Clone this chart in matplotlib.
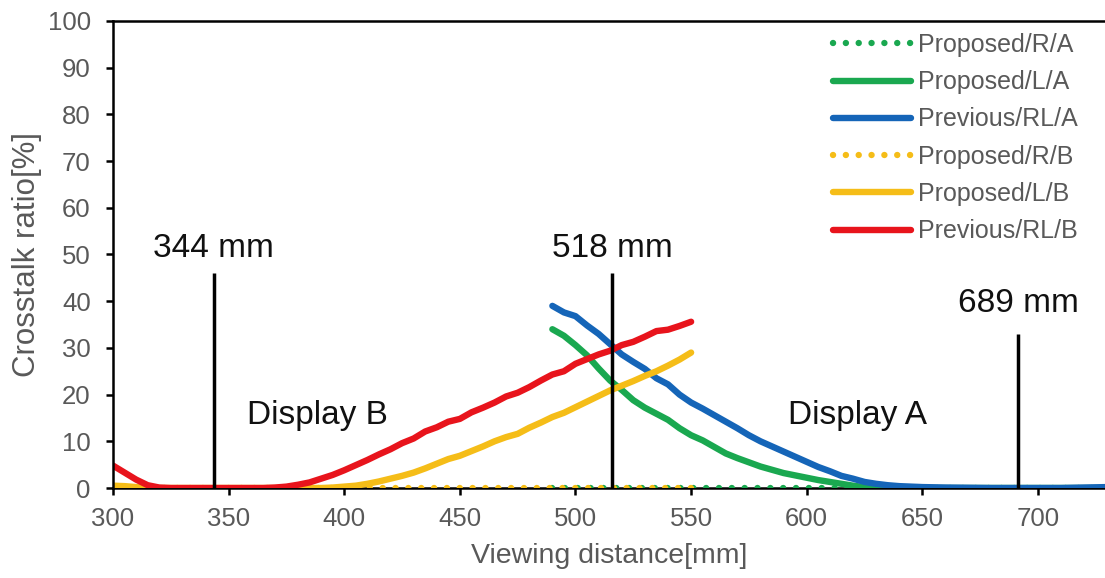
import numpy as np
import matplotlib.pyplot as plt

plt.rcParams['font.family'] = ['Liberation Sans', 'DejaVu Sans']

# viewing distance [mm] and crosstalk ratio [%]
x_b = [300, 305, 310, 315, 320, 325, 330, 335, 340, 345, 350, 355, 360, 365, 370,
       375, 380, 385, 390, 395, 400, 405, 410, 415, 420, 425, 430, 435, 440, 445,
       450, 455, 460, 465, 470, 475, 480, 485, 490, 495, 500, 505, 510, 515, 520,
       525, 530, 535, 540, 545, 550]
prev_rl_b = [4.8, 3.3, 1.8, 0.6, 0.1, 0, 0, 0, 0, 0, 0, 0, 0, 0, 0.1,
             0.3, 0.7, 1.2, 2.0, 2.8, 3.8, 4.9, 6.0, 7.2, 8.3, 9.6, 10.6, 12.1, 13.0, 14.2,
             14.8, 16.2, 17.2, 18.3, 19.6, 20.4, 21.6, 23.0, 24.3, 25.0, 26.6, 27.6, 28.6, 29.4, 30.6,
             31.3, 32.4, 33.6, 33.9, 34.7, 35.6]
prop_l_b = [0.5, 0.4, 0.2, 0, 0, 0, 0, 0, 0, 0, 0, 0, 0, 0, 0,
            0, 0, 0, 0, 0.1, 0.3, 0.5, 0.9, 1.4, 2.0, 2.6, 3.3, 4.2, 5.2, 6.2,
            6.9, 7.9, 8.9, 10.0, 10.9, 11.6, 12.9, 14.0, 15.2, 16.1, 17.3, 18.5, 19.7, 20.9, 21.9,
            22.9, 24.0, 25.0, 26.2, 27.5, 29.0]
prop_r_b = [0] * len(x_b)

x_a = [490, 495, 500, 505, 510, 515, 520, 525, 530, 535, 540, 545, 550, 555, 560,
       565, 570, 575, 580, 585, 590, 595, 600, 605, 610, 615, 620, 625, 630, 635,
       640, 645, 650, 660, 670, 680, 690, 700, 710, 720, 730]
prev_rl_a = [39.0, 37.6, 36.8, 34.8, 33.0, 30.8, 28.6, 27.0, 25.5, 23.5, 22.2, 20.0, 18.3, 17.0, 15.6,
             14.2, 12.8, 11.3, 10.0, 8.9, 7.8, 6.7, 5.6, 4.5, 3.6, 2.6, 2.0, 1.3, 0.9, 0.6,
             0.4, 0.3, 0.2, 0.1, 0.05, 0, 0, 0, 0, 0.1, 0.2]
prop_l_a = [34.0, 32.6, 30.6, 28.4, 25.6, 23.0, 21.0, 18.8, 17.2, 15.9, 14.6, 12.8, 11.3, 10.2, 8.8,
            7.4, 6.4, 5.5, 4.6, 3.9, 3.2, 2.7, 2.2, 1.7, 1.3, 0.9, 0.5, 0.2, 0.1, 0,
            0, 0, 0, 0, 0, 0, 0, 0, 0, 0, 0]
prop_r_a = [0] * len(x_a)

# reference distances
marks = [343.5, 516, 691.5]
mark_tops = [46, 46, 33]
mark_labels = ['344 mm', '518 mm', '689 mm']
mark_label_y = [49.5, 49.5, 37.7]

green = '#1aa850'
blue = '#1565b8'
yellow = '#f5bd18'
red = '#e8141c'
grey = '#595959'

fig = plt.figure(figsize=(11.05, 5.78), dpi=100)
ax = fig.add_axes([0.1023, 0.1557, 0.8977, 0.808])

lw = 4.6
ax.plot(x_a, prop_r_a, color=green, lw=lw, dashes=(0.01, 2.0),
        dash_capstyle='round', label='Proposed/R/A')
ax.plot(x_a, prop_l_a, color=green, lw=lw, solid_capstyle='round', label='Proposed/L/A')
ax.plot(x_a, prev_rl_a, color=blue, lw=lw, solid_capstyle='round', label='Previous/RL/A')
ax.plot(x_b, prop_r_b, color=yellow, lw=lw, dashes=(0.01, 2.0),
        dash_capstyle='round', label='Proposed/R/B')
ax.plot(x_b, prop_l_b, color=yellow, lw=lw, solid_capstyle='round', label='Proposed/L/B')
ax.plot(x_b, prev_rl_b, color=red, lw=lw, solid_capstyle='round', label='Previous/RL/B')

ax.vlines(marks, 0, mark_tops, color='black', lw=2.5, zorder=5)
for xm, ym, txt in zip(marks, mark_label_y, mark_labels):
    ax.text(xm, ym, txt, ha='center', va='baseline', fontsize=24, color='#111111')
ax.text(388.5, 13.6, 'Display B', ha='center', va='baseline', fontsize=24, color='#111111')
ax.text(622, 13.6, 'Display A', ha='center', va='baseline', fontsize=24, color='#111111')

ax.set_xlim(300, 729)
ax.set_ylim(0, 100)
ax.set_xticks(np.arange(300, 701, 50))
ax.set_yticks(np.arange(0, 101, 10))
ax.tick_params(axis='both', labelsize=18.5, labelcolor=grey, direction='out',
               length=5, width=1.8, color='black')
ax.tick_params(axis='x', pad=9)
ax.tick_params(axis='y', pad=11)
for s in ['left', 'bottom', 'top']:
    ax.spines[s].set_linewidth(1.8)
    ax.spines[s].set_color('black')
ax.spines['right'].set_visible(False)
ax.spines['bottom'].set_zorder(0)

ax.set_xlabel('Viewing distance[mm]', fontsize=20.5, color=grey, labelpad=8)
ax.set_ylabel('Crosstalk ratio[%]', fontsize=22.5, color=grey, labelpad=4)

ax.legend(loc='upper left', bbox_to_anchor=(833 / 1105, 1 - 33 / 578),
          bbox_transform=fig.transFigure, frameon=False, fontsize=18,
          handlelength=3.1, handletextpad=0.32, labelspacing=0.53,
          borderpad=0, borderaxespad=0, labelcolor=grey)

fig.savefig('out.png', dpi=100)
